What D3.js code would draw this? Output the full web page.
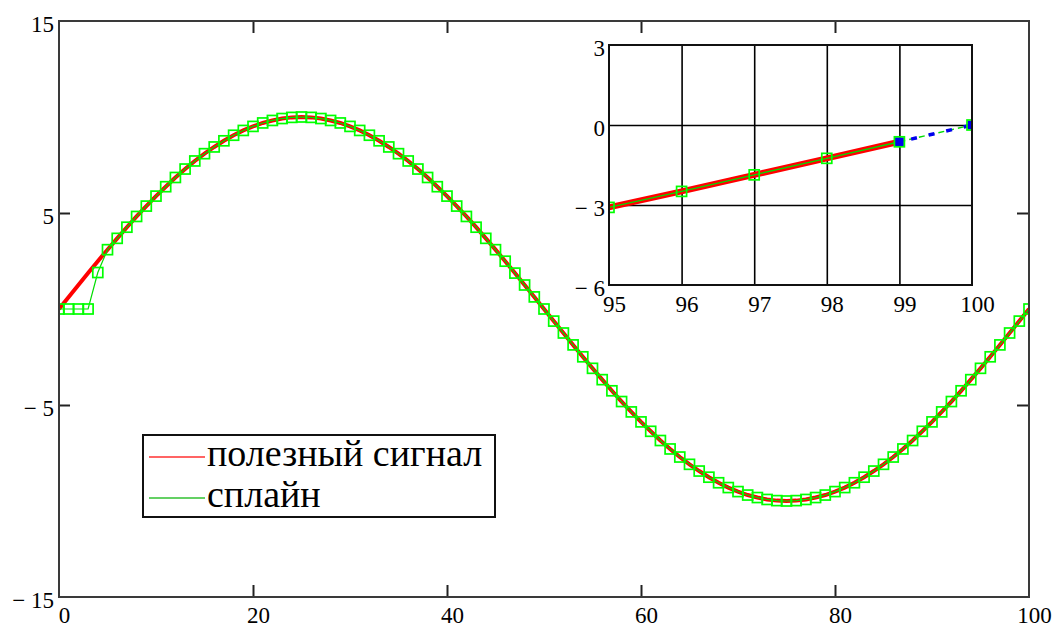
<!DOCTYPE html>
<html>
<head>
<meta charset="utf-8">
<script src="https://cdn.jsdelivr.net/npm/d3@7"></script>
<style>
  html, body { margin: 0; padding: 0; background: #fff; }
  svg { display: block; }
  text { font-family: "Liberation Serif", "Times New Roman", serif; fill: #000; }
</style>
</head>
<body>
<svg id="chart" width="1054" height="628"></svg>
<script>
// ---------- data ----------
const xValues = d3.range(0, 101);              // sample index 0..100
const signal = [0,0.63,1.25,1.87,2.49,3.09,3.68,4.26,4.82,5.36,5.88,6.37,6.85,7.29,7.71,8.09,8.44,8.76,9.05,9.30,9.51,9.69,9.82,9.92,9.98,10,
  9.98,9.92,9.82,9.69,9.51,9.30,9.05,8.76,8.44,8.09,7.71,7.29,6.85,6.37,5.88,5.36,4.82,4.26,3.68,3.09,2.49,1.87,1.25,0.63,0,
  -0.63,-1.25,-1.87,-2.49,-3.09,-3.68,-4.26,-4.82,-5.36,-5.88,-6.37,-6.85,-7.29,-7.71,-8.09,-8.44,-8.76,-9.05,-9.30,-9.51,-9.69,-9.82,-9.92,-9.98,-10,
  -9.98,-9.92,-9.82,-9.69,-9.51,-9.30,-9.05,-8.76,-8.44,-8.09,-7.71,-7.29,-6.85,-6.37,-5.88,-5.36,-4.82,-4.26,-3.68,-3.09,-2.49,-1.87,-1.25,-0.63,0];
const spline = [0,0,0,0,1.9,3.09,3.68,4.26,4.82,5.36,5.88,6.37,6.85,7.29,7.71,8.09,8.44,8.76,9.05,9.30,9.51,9.69,9.82,9.92,9.98,10,
  9.98,9.92,9.82,9.69,9.51,9.30,9.05,8.76,8.44,8.09,7.71,7.29,6.85,6.37,5.88,5.36,4.82,4.26,3.68,3.09,2.49,1.87,1.25,0.63,0,
  -0.63,-1.25,-1.87,-2.49,-3.09,-3.68,-4.26,-4.82,-5.36,-5.88,-6.37,-6.85,-7.29,-7.71,-8.09,-8.44,-8.76,-9.05,-9.30,-9.51,-9.69,-9.82,-9.92,-9.98,-10,
  -9.98,-9.92,-9.82,-9.69,-9.51,-9.30,-9.05,-8.76,-8.44,-8.09,-7.71,-7.29,-6.85,-6.37,-5.88,-5.36,-4.82,-4.26,-3.68,-3.09,-2.49,-1.87,-1.25,-0.63,0];
const legendLabels = ["полезный сигнал", "сплайн"];

const mainXTicks = [0, 20, 40, 60, 80, 100];
const mainYTicks = [-15, -5, 5, 15];
const mainInnerXTicks = [20, 40, 60, 80];
const mainInnerYTicks = [-5, 5];

const insetXTicks = [95, 96, 97, 98, 99, 100];
const insetYTicks = [-6, -3, 0, 3];
const insetSolidEnd = 99;        // solid curves end here in the inset
const insetExtX = [99, 100];     // dashed extension segment
const insetExtY = [-0.63, 0];

// ---------- layout ----------
const svg = d3.select("#chart");
const M = { left: 59, right: 1029, top: 21, bottom: 597 };
const I = { left: 609, right: 972, top: 45, bottom: 285 };
const FS = 23;
const fmt = d => d < 0 ? "\u2212 " + Math.abs(d) : String(d);

const x = d3.scaleLinear().domain([0, 100]).range([M.left, M.right]);
const y = d3.scaleLinear().domain([-15, 15]).range([M.bottom, M.top]);

const pts = (ys, xs) => xs.map((xv, i) => [xv, ys[i]]);
const sigPts = pts(signal, xValues);
const splPts = pts(spline, xValues);

// ---------- main plot ----------
svg.append("clipPath").attr("id", "mainClip").append("rect")
  .attr("x", M.left).attr("y", M.top).attr("width", M.right - M.left).attr("height", M.bottom - M.top);

const plot = svg.append("g").attr("clip-path", "url(#mainClip)");
const line = d3.line().x(d => x(d[0])).y(d => y(d[1]));

plot.append("path").datum(sigPts).attr("d", line)
  .attr("fill", "none").attr("stroke", "#ff0000").attr("stroke-width", 4);
plot.append("path").datum(splPts).attr("d", line)
  .attr("fill", "none").attr("stroke", "#00dd00").attr("stroke-width", 1.2);
const sq = 10;
plot.selectAll("rect.mk").data(splPts).join("rect").attr("class", "mk")
  .attr("x", d => x(d[0]) - sq / 2).attr("y", d => y(d[1]) - sq / 2)
  .attr("width", sq).attr("height", sq)
  .attr("fill", "none").attr("stroke", "#00ff00").attr("stroke-width", 1.7);

// inner ticks
const tickStyle = g => { g.select(".domain").remove(); g.selectAll("line").attr("stroke", "#222").attr("stroke-width", 2); g.selectAll("text").remove(); };
svg.append("g").attr("transform", `translate(0,${M.bottom})`)
  .call(d3.axisTop(x).tickValues(mainInnerXTicks).tickSize(12)).call(tickStyle);
svg.append("g").attr("transform", `translate(0,${M.top})`)
  .call(d3.axisBottom(x).tickValues(mainInnerXTicks).tickSize(12)).call(tickStyle);
svg.append("g").attr("transform", `translate(${M.left},0)`)
  .call(d3.axisRight(y).tickValues(mainInnerYTicks).tickSize(11)).call(tickStyle);
svg.append("g").attr("transform", `translate(${M.right},0)`)
  .call(d3.axisLeft(y).tickValues(mainInnerYTicks).tickSize(12)).call(tickStyle);

// frame
svg.append("rect").attr("x", M.left).attr("y", M.top)
  .attr("width", M.right - M.left).attr("height", M.bottom - M.top)
  .attr("fill", "none").attr("stroke", "#3a3a3a").attr("stroke-width", 2);

// labels
const labelStyle = g => { g.select(".domain").remove(); g.selectAll("line").remove();
  g.attr("font-family", null);
  g.selectAll("text").attr("font-family", "Liberation Serif").attr("font-size", FS).attr("fill", "#000"); };
svg.append("g").attr("transform", `translate(0,${M.bottom})`)
  .call(d3.axisBottom(x).tickValues(mainXTicks).tickSize(0).tickPadding(10).tickFormat(fmt))
  .call(labelStyle).call(g => g.selectAll("text").attr("dx", 5));
svg.append("g").attr("transform", `translate(${M.left},0)`)
  .call(d3.axisLeft(y).tickValues(mainYTicks).tickSize(0).tickPadding(5).tickFormat(fmt))
  .call(labelStyle).call(g => g.selectAll("text").attr("transform", "translate(0,3)"));

// ---------- legend ----------
const leg = svg.append("g");
leg.append("rect").attr("x", 143).attr("y", 435).attr("width", 352).attr("height", 82)
  .attr("fill", "#fff").attr("stroke", "#111").attr("stroke-width", 2);
const legColors = ["#ff3030", "#30c030"];
const legY = [457, 498];
legendLabels.forEach((t, i) => {
  leg.append("line").attr("x1", 149).attr("x2", 205).attr("y1", legY[i]).attr("y2", legY[i])
    .attr("stroke", legColors[i]).attr("stroke-width", 1.5);
  leg.append("text").attr("x", 207).attr("y", legY[i] + 9).attr("font-size", 38).text(t);
});

// ---------- inset ----------
const ix = d3.scaleLinear().domain([95, 100]).range([I.left, I.right]);
const iy = d3.scaleLinear().domain([-6, 3]).range([I.bottom, I.top]);
svg.append("rect").attr("x", I.left).attr("y", I.top).attr("width", I.right - I.left).attr("height", I.bottom - I.top)
  .attr("fill", "#fff");
svg.append("clipPath").attr("id", "insetClip").append("rect")
  .attr("x", I.left).attr("y", I.top).attr("width", I.right - I.left).attr("height", I.bottom - I.top);

// grid
svg.append("g").attr("transform", `translate(0,${I.bottom})`)
  .call(d3.axisTop(ix).tickValues(insetXTicks.slice(1, -1)).tickSize(I.bottom - I.top))
  .call(g => { g.select(".domain").remove(); g.selectAll("text").remove(); g.selectAll("line").attr("stroke", "#000").attr("stroke-width", 1.6); });
svg.append("g").attr("transform", `translate(${I.left},0)`)
  .call(d3.axisRight(iy).tickValues(insetYTicks.slice(1, -1)).tickSize(I.right - I.left))
  .call(g => { g.select(".domain").remove(); g.selectAll("text").remove(); g.selectAll("line").attr("stroke", "#000").attr("stroke-width", 1.6); });

const iplot = svg.append("g").attr("clip-path", "url(#insetClip)");
const iline = d3.line().x(d => ix(d[0])).y(d => iy(d[1]));
const inSolid = d => d[0] >= 94 && d[0] <= insetSolidEnd;
iplot.append("path").datum(sigPts.filter(inSolid)).attr("d", iline)
  .attr("fill", "none").attr("stroke", "#ff0000").attr("stroke-width", 6);
iplot.append("path").datum(splPts.filter(inSolid)).attr("d", iline)
  .attr("fill", "none").attr("stroke", "#00dd00").attr("stroke-width", 1.4);
const extPts = pts(insetExtY, insetExtX);
iplot.append("path").datum(extPts).attr("d", iline)
  .attr("fill", "none").attr("stroke", "#00dd00").attr("stroke-width", 1.4).attr("stroke-dasharray", "6,4");
iplot.append("path").datum(extPts).attr("d", iline)
  .attr("fill", "none").attr("stroke", "#0000ee").attr("stroke-width", 3.5).attr("stroke-dasharray", "6,12").attr("stroke-dashoffset", -12);
iplot.selectAll("rect.bm").data(extPts).join("rect").attr("class", "bm")
  .attr("x", d => ix(d[0]) - 4.5).attr("y", d => iy(d[1]) - 4.5).attr("width", 9).attr("height", 9)
  .attr("fill", "#0000ee");
iplot.selectAll("rect.im").data(splPts.filter(d => d[0] >= 95)).join("rect").attr("class", "im")
  .attr("x", d => ix(d[0]) - sq / 2).attr("y", d => iy(d[1]) - sq / 2)
  .attr("width", sq).attr("height", sq)
  .attr("fill", "none").attr("stroke", "#00ff00").attr("stroke-width", 1.7);

svg.append("rect").attr("x", I.left).attr("y", I.top).attr("width", I.right - I.left).attr("height", I.bottom - I.top)
  .attr("fill", "none").attr("stroke", "#111").attr("stroke-width", 2);

svg.append("g").attr("transform", `translate(0,${I.bottom})`)
  .call(d3.axisBottom(ix).tickValues(insetXTicks).tickSize(0).tickPadding(11).tickFormat(fmt))
  .call(labelStyle).call(g => g.selectAll("text").attr("dx", 5));
svg.append("g").attr("transform", `translate(${I.left},0)`)
  .call(d3.axisLeft(iy).tickValues(insetYTicks).tickSize(0).tickPadding(4).tickFormat(fmt))
  .call(labelStyle).call(g => g.selectAll("text").attr("transform", "translate(0,3)"));
</script>
</body>
</html>
